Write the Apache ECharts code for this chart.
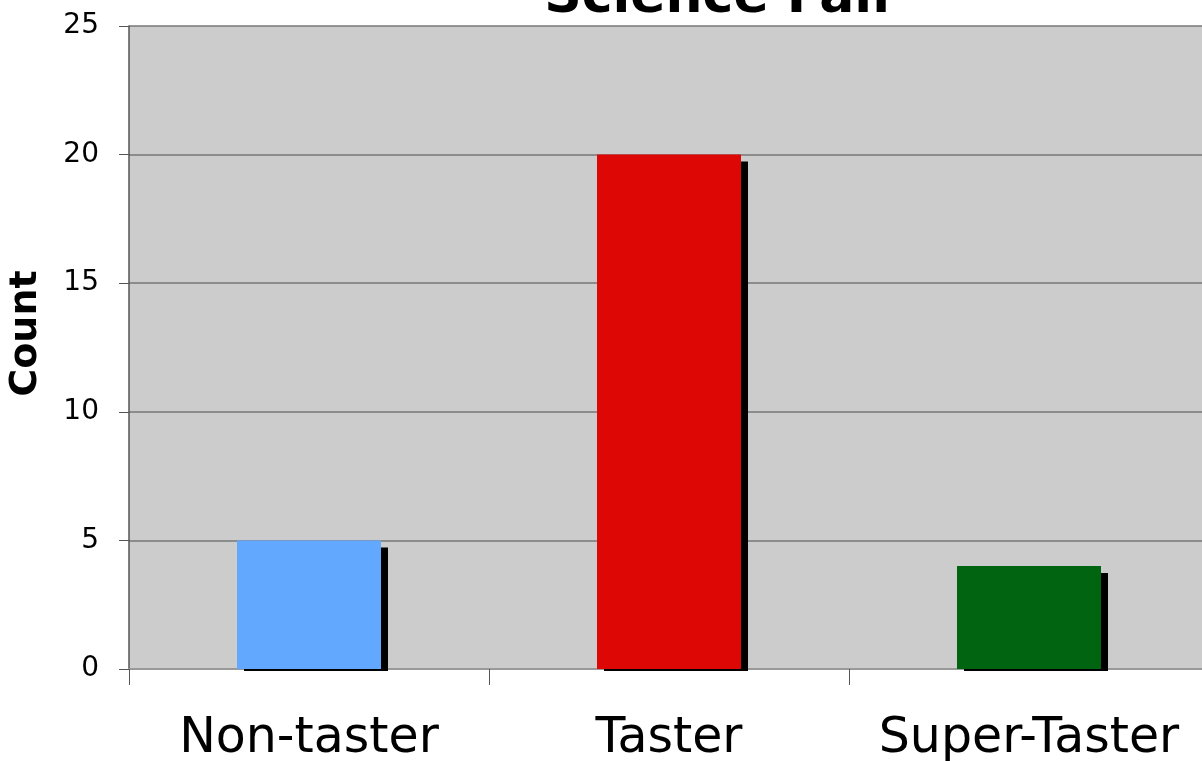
<!DOCTYPE html>
<html><head><meta charset="utf-8">
<script src="https://cdn.jsdelivr.net/npm/echarts@6/dist/echarts.min.js"></script>
<style>html,body{margin:0;padding:0;background:#fff}#c{width:1202px;height:761px}</style>
</head><body><div id="c"></div>
<script>
const categories = ["Non-taster", "Taster", "Super-Taster"];
const counts = [5, 20, 4];
const barColors = ["#62a8ff", "#dd0806", "#006411"];
const yTicks = [0, 5, 10, 15, 20, 25];

const chart = echarts.init(document.getElementById('c'));
chart.setOption({
  animation: false,
  title: {
    text: "Science Fair", left: 716, top: -33, textAlign: 'center',
    textStyle: {fontFamily: 'DejaVu Sans', fontWeight: 'bold', fontSize: 52, color: '#000'}
  },
  grid: {left: 129, top: 26, bottom: 92, right: -7, outerBoundsMode: 'none', containLabel: false,
         show: true, backgroundColor: '#cccccc', borderWidth: 0},
  xAxis: {
    type: 'category', data: categories,
    axisLine: {show: true, lineStyle: {color: '#999999', width: 2}},
    axisTick: {show: true, interval: 0, length: 16, lineStyle: {color: '#555'}},
    axisLabel: {interval: 0, fontFamily: 'DejaVu Sans', fontSize: 49, color: '#000', margin: 46}
  },
  yAxis: {
    type: 'value', min: yTicks[0], max: yTicks[yTicks.length - 1], interval: 5,
    name: 'Count', nameLocation: 'middle', nameGap: 84, nameRotate: 90,
    nameTextStyle: {fontFamily: 'DejaVu Sans', fontWeight: 'bold', fontSize: 38, color: '#000', padding: [0, 0, 0, 28]},
    axisLine: {show: true, lineStyle: {color: '#555', width: 1.5}},
    axisTick: {show: true, length: 10, lineStyle: {color: '#555'}},
    axisLabel: {fontFamily: 'DejaVu Sans', fontSize: 28, color: '#000', margin: 30},
    splitLine: {show: true, lineStyle: {color: '#777', width: 1.5}}
  },
  series: [{
    type: 'custom', z: 1, clip: false,
    data: counts.map((v, i) => [i, v]),
    renderItem: function (params, api) {
      const top = api.coord([api.value(0), api.value(1)]);
      const base = api.coord([api.value(0), 0]);
      const w = 144;
      return {
        type: 'rect',
        shape: {x: top[0] - w / 2 + 7, y: top[1] + 7, width: w, height: base[1] - top[1] - 5},
        style: {fill: '#000'}
      };
    }
  }, {
    type: 'bar', barWidth: 144, z: 2,
    data: counts.map((v, i) => ({value: v, itemStyle: {color: barColors[i]}}))
  }]
});
</script></body></html>
